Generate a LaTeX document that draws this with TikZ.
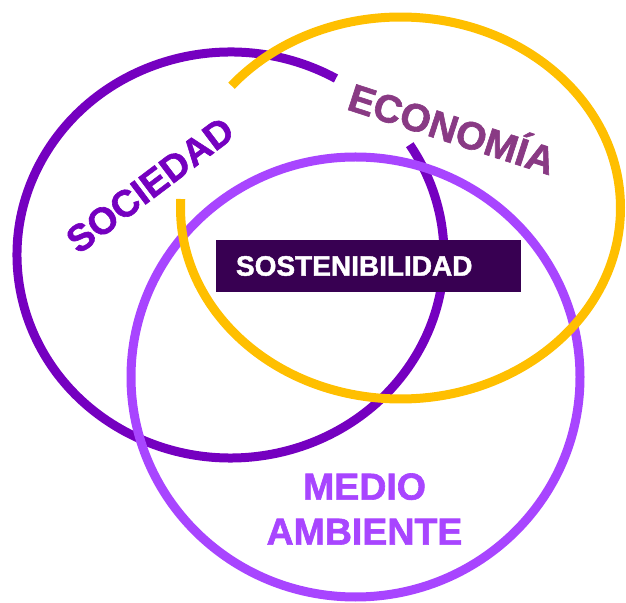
\documentclass[tikz,border=0pt]{standalone}
\usepackage{fontspec}
\setmainfont{Liberation Sans}
\newfontfamily\heavysans{Liberation Sans Bold}[FakeBold=1.6]
\usepackage{tikz}
\usetikzlibrary{calc}
\definecolor{socpurple}{HTML}{7500C0}
\definecolor{ecoyellow}{HTML}{FFBF00}
\definecolor{envpurple}{HTML}{A845FF}
\definecolor{ecotext}{HTML}{893A84}
\definecolor{corebox}{HTML}{380052}
\tikzstyle{ring}=[line width=9pt]
\tikzstyle{bigword}=[font=\heavysans\fontsize{37.5}{45}\selectfont,inner sep=0pt]
\tikzstyle{core}=[fill=corebox,text=white,font=\heavysans\fontsize{28}{30}\selectfont,
  minimum width=305pt,minimum height=52pt,text width=265pt,align=left,inner xsep=20pt]

\begin{document}
\begin{tikzpicture}[x=1pt,y=1pt]
    \useasboundingbox (0,0) rectangle (626,602);

    % the three rings, each with its gap
    \foreach \cx/\cy/\rx/\ry/\start/\upto/\col in {230.5/347/213.5/203/60.4/392.9/socpurple,
        355.5/225/224.5/220/0/360/envpurple, 400.5/394/220/191/177.3/500.2/ecoyellow}
        \draw[ring,\col] (\cx,\cy) ++(\start:\rx pt and \ry pt)
            arc[start angle=\start, end angle=\upto, x radius=\rx pt, y radius=\ry pt];

    \node[core] (sost) at (368.5,336) {SOSTENIBILIDAD};

    \node[bigword,text=socpurple,rotate=37] (soc) at (150,417) {SOCIEDAD};
    \node[bigword,text=ecotext,rotate=-18,font=\heavysans\fontsize{39}{45}\selectfont] (eco) at (453,476) {ECONOMÍA};
    \node[bigword,text=envpurple,align=center] (env) at (364.5,93) {MEDIO\\AMBIENTE};

\end{tikzpicture}
\end{document}
